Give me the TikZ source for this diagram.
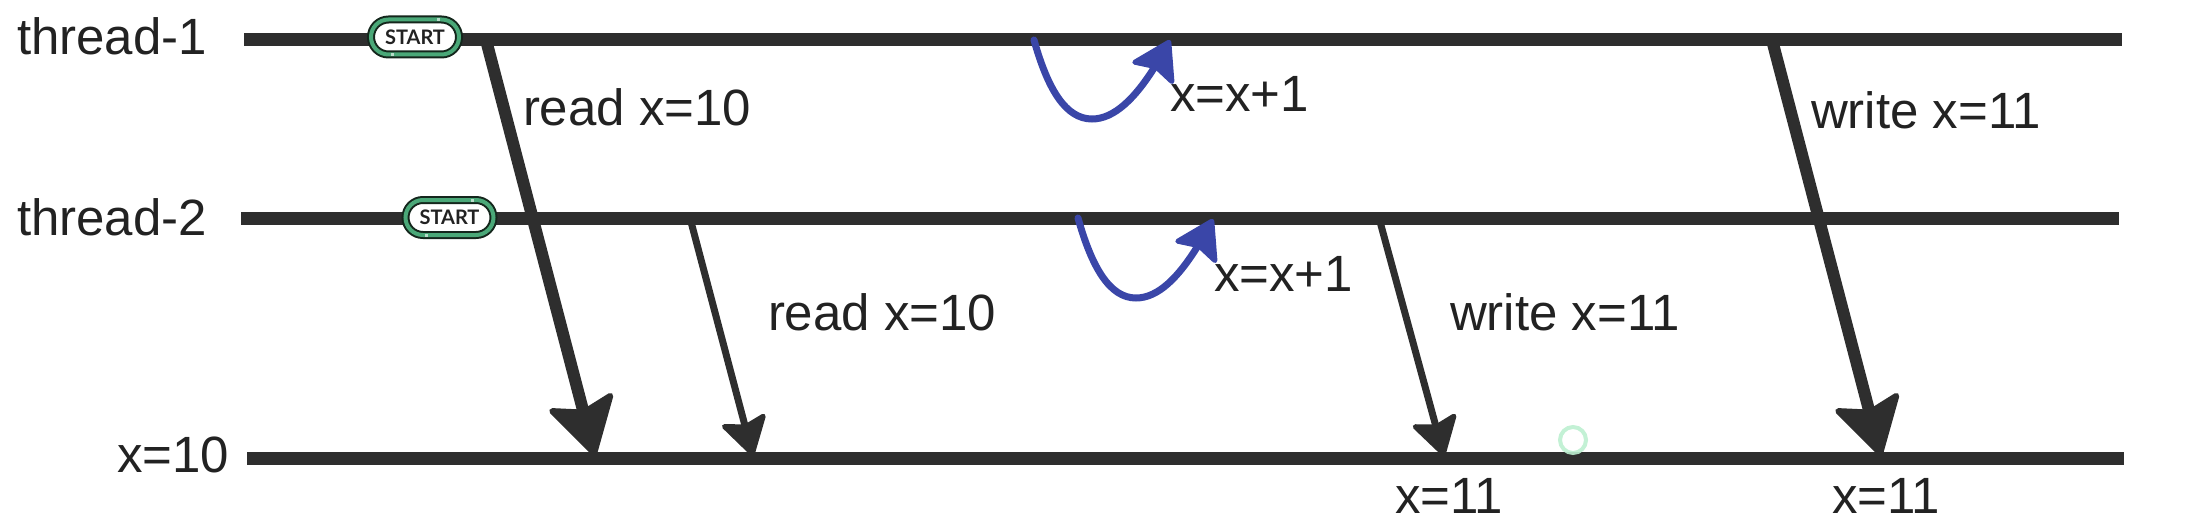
\documentclass[tikz,border=0pt]{standalone}
\usepackage{fontspec}
\setmainfont{Liberation Sans}
\newfontfamily\pillfont{Lato}
\usetikzlibrary{arrows.meta,bending,shapes.misc}
\definecolor{ink}{HTML}{2E2E2E}
\definecolor{txt}{HTML}{222222}
\definecolor{loopblue}{HTML}{3A46A8}
\definecolor{pillgreen}{HTML}{4AA878}
\definecolor{pillink}{HTML}{14261C}
\definecolor{blipgreen}{HTML}{BDEFD0}
\tikzset{
  x=1pt,y=-1pt,
  lane/.style={draw=ink,line width=13pt},
  thickarrow/.style={draw=ink,line width=12pt,-{Stealth[length=62pt,width=72pt,inset=11pt,line width=6pt,round]}},
  thinarrow/.style={draw=ink,line width=7pt,-{Stealth[length=42pt,width=50pt,inset=7pt,line width=5pt,round]}},
  looparrow/.style={draw=loopblue,line width=7pt,line cap=round,-{Stealth[length=42pt,width=52pt,inset=7pt,line width=5pt,round,flex=0]}},
  lbl/.style={anchor=base west,inner sep=0pt,outer sep=0pt,text=txt,font=\fontsize{51}{60}\selectfont},
  pill/.style={rounded rectangle,draw=pillink,line width=2pt,double=pillgreen,double distance=4pt,fill=white,
    minimum width=88pt,minimum height=35pt,inner sep=0pt,outer sep=0pt,text=txt,
    font=\pillfont\bfseries\fontsize{20}{20}\selectfont},
  pillgap/.style={draw=white!60!pillgreen,line width=3pt},
  blip/.style={draw=blipgreen,line width=4pt,opacity=.9}
}
\begin{document}
\begin{tikzpicture}
\useasboundingbox (0,0) rectangle (2201,524);
% lanes
\coordinate (t1a) at (244,40);  \coordinate (t1b) at (2122,40);
\coordinate (t2a) at (241,218); \coordinate (t2b) at (2119,218);
\coordinate (xa)  at (247,458); \coordinate (xb)  at (2124,458);
\draw[lane] (t1a) -- (t1b);
\draw[lane] (t2a) -- (t2b);
\draw[lane] (xa) -- (xb);
% thread start pills
\node[pill] (s1) at (415,37) {START};
\node[pill] (s2) at (449.5,217.5) {START};
\foreach \n in {s1,s2}{
  \draw[pillgap] ([xshift=23pt,yshift=-1.5pt]\n.north) -- ([xshift=23pt,yshift=1.5pt]\n.north);
  \draw[pillgap] ([xshift=-23pt,yshift=-1.5pt]\n.south) -- ([xshift=-23pt,yshift=1.5pt]\n.south);
}
% arrows
\coordinate (a1s) at (486,40);  \coordinate (a1e) at (595,456);
\coordinate (a2s) at (690,218); \coordinate (a2e) at (753,456);
\coordinate (a3s) at (1379,218);\coordinate (a3e) at (1444,456);
\coordinate (a4s) at (1772,40); \coordinate (a4e) at (1881,456);
\draw[thickarrow] (a1s) -- (a1e);
\draw[thinarrow]  (a2s) -- (a2e);
\draw[thinarrow]  (a3s) -- (a3e);
\draw[thickarrow] (a4s) -- (a4e);
% loops
\coordinate (l1s) at (1034,40);  \coordinate (l1b) at (1092,119);  \coordinate (l1e) at (1170,40);
\coordinate (l2s) at (1078,218); \coordinate (l2b) at (1136,298);  \coordinate (l2e) at (1213,219);
\draw[looparrow] (l1s) .. controls (1048,90) and (1066,119) .. (l1b) .. controls (1120,119) and (1146,86) .. (l1e);
\draw[looparrow] (l2s) .. controls (1092,268) and (1110,298) .. (l2b) .. controls (1164,298) and (1189,265) .. (l2e);
% labels
\node[lbl] (n1) at (17,55) {thread-1};
\node[lbl] (n2) at (17,235) {thread-2};
\node[lbl] (n3) at (117,472) {x=10};
\node[lbl] (n4) at (523,126) {read x=10};
\node[lbl] (n5) at (768,330) {read x=10};
\node[lbl] (n6) at (1170,112) {x=x+1};
\node[lbl] (n7) at (1214,291) {x=x+1};
\node[lbl] (n8) at (1811,129) {write x=11};
\node[lbl] (n9) at (1450,330) {write x=11};
\node[lbl] (n10) at (1395,513) {x=11};
\node[lbl] (n11) at (1832,513) {x=11};
% cursor blip
\node[circle,blip,minimum size=26pt,inner sep=0pt] (c) at (1573,440) {};
\end{tikzpicture}
\end{document}
